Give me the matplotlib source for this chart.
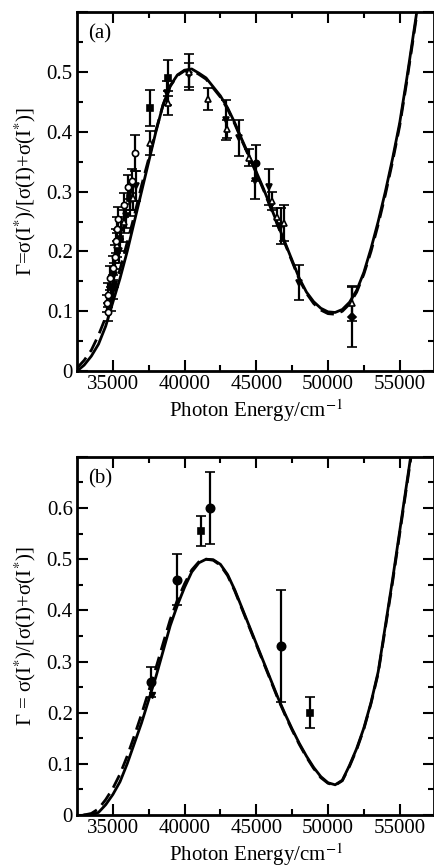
import matplotlib
matplotlib.use("Agg")
import matplotlib.pyplot as plt
import numpy as np

plt.rcParams['font.family'] = ['Liberation Serif', 'DejaVu Serif']
plt.rcParams['mathtext.fontset'] = 'stix'

# ---- panel (a): theory curves ----
a_energy = [32500, 33000, 33500, 34000, 34500, 35000, 35500, 36000, 36500, 37000,
            37500, 38000, 38500, 39000, 39500, 40000, 40500, 41000, 41500, 42000,
            42500, 43000, 43500, 44000, 44500, 45000, 45500, 46000, 46500, 47000,
            47500, 48000, 48500, 49000, 49500, 50000, 50500, 51000, 51500, 52000,
            52500, 53000, 53500, 54000, 54500, 55000, 55500, 56000, 56500]
a_solid = [0.0, 0.01, 0.025, 0.045, 0.075, 0.115, 0.155, 0.2, 0.25, 0.3,
           0.35, 0.4, 0.445, 0.477, 0.495, 0.503, 0.505, 0.498, 0.49, 0.475,
           0.46, 0.44, 0.415, 0.387, 0.36, 0.333, 0.305, 0.275, 0.245, 0.215,
           0.185, 0.155, 0.132, 0.116, 0.105, 0.099, 0.098, 0.103, 0.115, 0.135,
           0.165, 0.205, 0.25, 0.3, 0.355, 0.415, 0.49, 0.57, 0.65]
a_dashed = [0.005, 0.018, 0.035, 0.06, 0.09, 0.13, 0.17, 0.215, 0.26, 0.31,
            0.355, 0.402, 0.445, 0.476, 0.494, 0.502, 0.503, 0.496, 0.488, 0.473,
            0.458, 0.438, 0.413, 0.385, 0.358, 0.331, 0.303, 0.273, 0.243, 0.213,
            0.183, 0.153, 0.13, 0.113, 0.102, 0.096, 0.095, 0.1, 0.112, 0.132,
            0.162, 0.2, 0.245, 0.295, 0.35, 0.41, 0.485, 0.565, 0.645]

# ---- panel (a): measurements ----
a_ocirc_x = [34650, 34580, 34650, 34790, 35000, 35140, 35210, 35280, 35350, 35760, 36040, 36320, 36530]
a_ocirc_y = [0.098, 0.113, 0.127, 0.155, 0.173, 0.19, 0.218, 0.238, 0.255, 0.277, 0.307, 0.318, 0.365]
a_ocirc_e = [0.015, 0.015, 0.02, 0.02, 0.02, 0.02, 0.02, 0.02, 0.02, 0.02, 0.02, 0.02, 0.03]

a_dtri_x = [34900, 35100, 35400, 35600, 35900, 36200, 36600, 38800, 40300, 42900, 43800, 44900, 45900, 46750, 48000]
a_dtri_y = [0.12, 0.16, 0.2, 0.235, 0.26, 0.285, 0.31, 0.465, 0.495, 0.42, 0.39, 0.318, 0.307, 0.243, 0.148]
a_dtri_e = [0.02, 0.02, 0.02, 0.02, 0.02, 0.025, 0.025, 0.02, 0.02, 0.033, 0.03, 0.03, 0.03, 0.03, 0.03]

a_otri_x = [35300, 35800, 36400, 37570, 38820, 40300, 41600, 42950, 44500, 46100, 46450, 46950, 51670]
a_otri_y = [0.21, 0.25, 0.29, 0.382, 0.448, 0.5, 0.455, 0.405, 0.357, 0.285, 0.257, 0.248, 0.113]
a_otri_e = [0.02, 0.02, 0.02, 0.02, 0.02, 0.03, 0.018, 0.015, 0.015, 0.015, 0.015, 0.03, 0.03]

a_sq_x = [35000, 35500, 36200, 37570, 38820]
a_sq_y = [0.14, 0.22, 0.29, 0.44, 0.49]
a_sq_e = [0.02, 0.02, 0.02, 0.03, 0.03]

a_fcirc_x, a_fcirc_y, a_fcirc_e = [45000], [0.348], [0.03]
a_dia_x, a_dia_y, a_dia_e = [51700], [0.09], [0.05]

# ---- panel (b): theory curves ----
b_energy = [33000, 33500, 34000, 34500, 35000, 35500, 36000, 36500, 37000, 37500,
            38000, 38500, 39000, 39500, 40000, 40500, 41000, 41500, 42000, 42500,
            43000, 43500, 44000, 44500, 45000, 45500, 46000, 46500, 47000, 47500,
            48000, 48500, 49000, 49500, 50000, 50500, 51000, 51500, 52000, 52500,
            53000, 53500, 54000, 54500, 55000, 55500, 56000]
b_solid = [0.0, 0.0, 0.005, 0.02, 0.04, 0.065, 0.1, 0.14, 0.18, 0.225,
           0.27, 0.32, 0.37, 0.41, 0.445, 0.475, 0.493, 0.5, 0.499, 0.49,
           0.47, 0.44, 0.405, 0.37, 0.335, 0.3, 0.265, 0.23, 0.198, 0.168,
           0.14, 0.115, 0.093, 0.075, 0.063, 0.059, 0.068, 0.097, 0.13, 0.17,
           0.22, 0.28, 0.37, 0.46, 0.555, 0.65, 0.745]
b_dashed = [0.0, 0.003, 0.012, 0.03, 0.052, 0.08, 0.115, 0.155, 0.197, 0.242,
            0.287, 0.335, 0.382, 0.42, 0.452, 0.479, 0.495, 0.5, 0.498, 0.488,
            0.468, 0.438, 0.403, 0.368, 0.333, 0.298, 0.263, 0.228, 0.196, 0.166,
            0.138, 0.113, 0.091, 0.073, 0.062, 0.058, 0.067, 0.095, 0.128, 0.168,
            0.218, 0.277, 0.366, 0.455, 0.55, 0.645, 0.74]

# ---- panel (b): measurements ----
b_fcirc_x = [37640, 39440, 41740, 46740]
b_fcirc_y = [0.26, 0.46, 0.6, 0.33]
b_fcirc_e = [0.03, 0.05, 0.07, 0.11]
b_sq_x = [41180, 48750]
b_sq_y = [0.555, 0.2]
b_sq_e = [0.03, 0.03]
b_dtri_x, b_dtri_y = [37700], [0.235]

ylabel_a = r'Γ=σ(I$^{*}$)/[σ(I)+σ(I$^{*}$)]'
ylabel_b = r'Γ = σ(I$^{*}$)/[σ(I)+σ(I$^{*}$)]'
xlabel = r'Photon Energy/cm$^{-1}$'

fig = plt.figure(figsize=(4.35, 8.67), dpi=100)
ax_a = fig.add_axes([0.177, 0.572, 0.821, 0.414])
ax_b = fig.add_axes([0.177, 0.060, 0.821, 0.413])


def pts(ax, x, y, e, marker, filled=True, ms=4.5):
    ax.errorbar(x, y, yerr=e, fmt=marker, color='black', ms=ms,
                mfc='black' if filled else 'white', mec='black', mew=1.2,
                elinewidth=1.6, capsize=3.5, capthick=1.6, zorder=3)


def style(ax, ymax, label, ylab):
    ax.set_xlim(32500, 57400)
    ax.set_ylim(0, ymax)
    ax.set_xticks([35000, 40000, 45000, 50000, 55000])
    ax.set_xticks(np.arange(37500, 57400, 5000), minor=True)
    yt = np.round(np.arange(0, ymax + 0.01, 0.1), 1)
    ax.set_yticks(yt)
    ax.set_yticklabels(['0'] + [f'{v:.1f}' for v in yt[1:-1]] + [''])
    ax.set_yticks(np.arange(0.05, ymax, 0.1), minor=True)
    ax.tick_params(which='both', direction='in', top=True, right=True,
                   labelsize=15, width=1.5)
    ax.tick_params(which='major', length=8, pad=3)
    ax.tick_params(which='minor', length=4)
    for s in ax.spines.values():
        s.set_linewidth(2)
    ax.set_xlabel(xlabel, fontsize=15, labelpad=2)
    ax.set_ylabel(ylab, fontsize=15)
    ax.yaxis.set_label_coords(-0.11, 0.5)
    ax.text(0.03, 0.965, label, transform=ax.transAxes, fontsize=15,
            va='top', ha='left')


ax_a.plot(a_energy, a_solid, color='black', lw=2, zorder=2)
ax_a.plot(a_energy, a_dashed, color='black', lw=2, ls=(0, (5, 2.5)), zorder=2)
pts(ax_a, a_dtri_x, a_dtri_y, a_dtri_e, 'v')
pts(ax_a, a_sq_x, a_sq_y, a_sq_e, 's')
pts(ax_a, a_otri_x, a_otri_y, a_otri_e, '^', filled=False)
pts(ax_a, a_ocirc_x, a_ocirc_y, a_ocirc_e, 'o', filled=False)
pts(ax_a, a_fcirc_x, a_fcirc_y, a_fcirc_e, 'o')
pts(ax_a, a_dia_x, a_dia_y, a_dia_e, 'D', ms=4)
style(ax_a, 0.6, '(a)', ylabel_a)

ax_b.plot(b_energy, b_solid, color='black', lw=2, zorder=2)
ax_b.plot(b_energy, b_dashed, color='black', lw=2, ls=(0, (5, 2.5)), zorder=2)
pts(ax_b, b_fcirc_x, b_fcirc_y, b_fcirc_e, 'o', ms=6)
pts(ax_b, b_sq_x, b_sq_y, b_sq_e, 's', ms=5)
ax_b.plot(b_dtri_x, b_dtri_y, 'v', color='black', ms=5, zorder=3)
style(ax_b, 0.7, '(b)', ylabel_b)

fig.savefig('out.png', dpi=100)
